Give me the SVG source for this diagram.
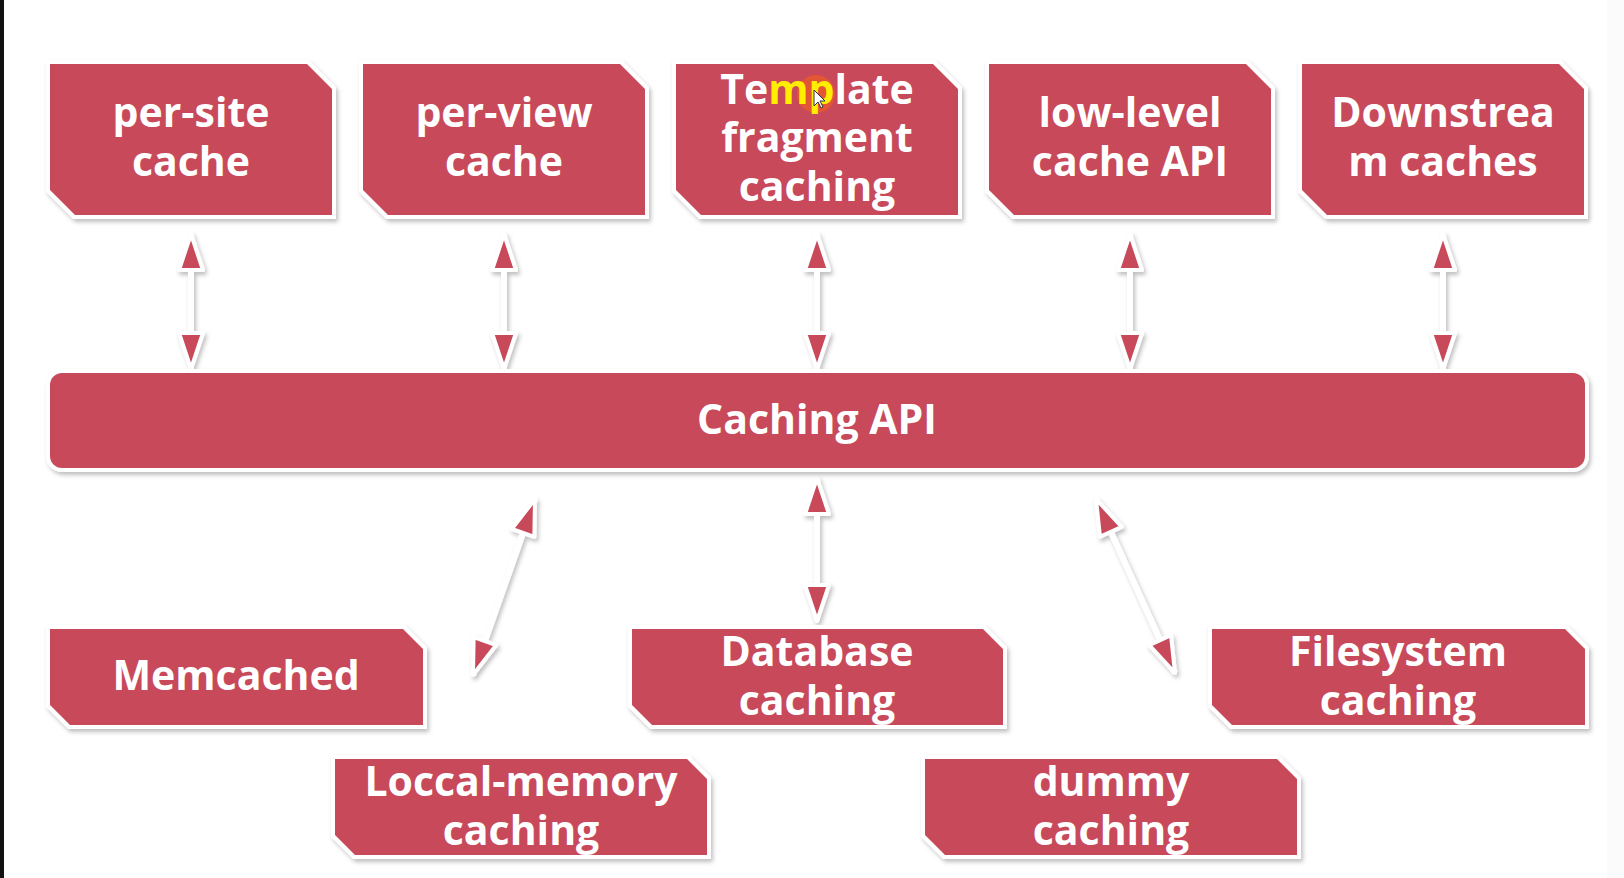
<svg xmlns="http://www.w3.org/2000/svg" width="1624" height="878" viewBox="0 0 1624 878">
<defs>
<style>
.box{fill:#c84a5a;stroke:#ffffff;stroke-width:8;stroke-linejoin:miter;paint-order:stroke;filter:url(#sh);}
.lbl{font-family:"Open Sans","Liberation Sans",sans-serif;font-weight:bold;font-size:41px;fill:#ffffff;text-anchor:middle;}
.conn{stroke:#ffffff;stroke-width:6;fill:none;marker-start:url(#ah);marker-end:url(#ah);}
</style>
<filter id="sh" x="-10%" y="-20%" width="120%" height="150%">
<feDropShadow dx="2" dy="3" stdDeviation="2" flood-color="#000000" flood-opacity="0.25"/>
</filter>
<marker id="ah" viewBox="-4 -4 44 32" refX="36" refY="12" markerWidth="44" markerHeight="32" markerUnits="userSpaceOnUse" orient="auto-start-reverse">
<path d="M0,0 L36,12 L0,24 Z" fill="#c84a5a" stroke="#ffffff" stroke-width="4" stroke-linejoin="round"/>
</marker>
</defs>
<rect x="0" y="0" width="1624" height="878" fill="#ffffff"/>
<rect x="0" y="0" width="4" height="878" fill="#111111"/>
<rect x="1607" y="0" width="17" height="878" fill="#fbfbfb"/>

<g id="connectors" filter="url(#sh)">
<line class="conn" x1="191" y1="234" x2="191" y2="369"/>
<line class="conn" x1="504" y1="234" x2="504" y2="369"/>
<line class="conn" x1="817" y1="234" x2="817" y2="369"/>
<line class="conn" x1="1130" y1="234" x2="1130" y2="369"/>
<line class="conn" x1="1443" y1="234" x2="1443" y2="369"/>
<line class="conn" x1="535" y1="499" x2="473" y2="675"/>
<line class="conn" x1="817" y1="478" x2="817" y2="621"/>
<line class="conn" x1="1096" y1="499" x2="1175" y2="673"/>
</g>

<g id="per-site">
<path class="box" d="M50,64 H307 L332,89 V215 H75 L50,190 Z"/>
<text class="lbl" x="191" y="127">per-site</text>
<text class="lbl" x="191" y="176">cache</text>
</g>
<g id="per-view">
<path class="box" d="M363,64 H620 L645,89 V215 H388 L363,190 Z"/>
<text class="lbl" x="504" y="127">per-view</text>
<text class="lbl" x="504" y="176">cache</text>
</g>
<g id="template-fragment">
<path class="box" d="M676,64 H933 L958,89 V215 H701 L676,190 Z"/>
<circle cx="816" cy="94" r="19" fill="#e4582f" opacity="0.9"/>
<text class="lbl" x="817" y="104">Te<tspan fill="#ffee00">mp</tspan>late</text>
<text class="lbl" x="817" y="152">fragment</text>
<text class="lbl" x="817" y="201">caching</text>
<path d="M814,90 L814,106 L818,102 L821,108 L823,107 L820,101 L825,101 Z" fill="#ffffff" stroke="#333333" stroke-width="1"/>
</g>
<g id="low-level">
<path class="box" d="M989,64 H1246 L1271,89 V215 H1014 L989,190 Z"/>
<text class="lbl" x="1130" y="127">low-level</text>
<text class="lbl" x="1130" y="176">cache API</text>
</g>
<g id="downstream">
<path class="box" d="M1302,64 H1559 L1584,89 V215 H1327 L1302,190 Z"/>
<text class="lbl" x="1443" y="127">Downstrea</text>
<text class="lbl" x="1443" y="176">m caches</text>
</g>

<g id="caching-api">
<rect class="box" x="50" y="373" width="1535" height="95" rx="12" ry="12"/>
<text class="lbl" x="817" y="434">Caching API</text>
</g>

<g id="memcached">
<path class="box" d="M50,629 H403 L423,649 V725 H70 L50,705 Z"/>
<text class="lbl" x="236" y="690">Memcached</text>
</g>
<g id="database">
<path class="box" d="M632,629 H983 L1003,649 V725 H652 L632,705 Z"/>
<text class="lbl" x="817" y="666">Database</text>
<text class="lbl" x="817" y="715">caching</text>
</g>
<g id="filesystem">
<path class="box" d="M1212,629 H1565 L1585,649 V725 H1232 L1212,705 Z"/>
<text class="lbl" x="1398" y="666">Filesystem</text>
<text class="lbl" x="1398" y="715">caching</text>
</g>
<g id="local-memory">
<path class="box" d="M335,759 H687 L707,779 V855 H355 L335,835 Z"/>
<text class="lbl" x="521" y="796">Loccal-memory</text>
<text class="lbl" x="521" y="845">caching</text>
</g>
<g id="dummy">
<path class="box" d="M925,759 H1277 L1297,779 V855 H945 L925,835 Z"/>
<text class="lbl" x="1111" y="796">dummy</text>
<text class="lbl" x="1111" y="845">caching</text>
</g>
</svg>
